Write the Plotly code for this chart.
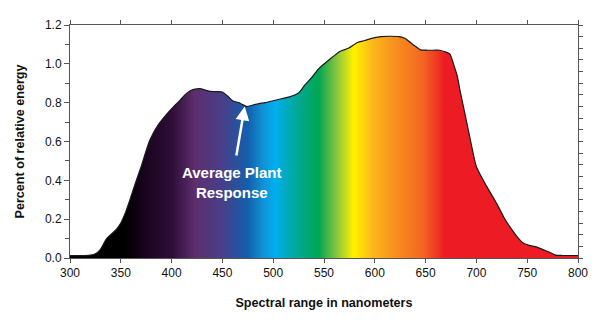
import plotly.graph_objects as go

# Spectral curve (wavelength nm, relative energy)
wavelength = [300, 310, 320, 325, 330, 336, 341, 346, 350, 355, 359, 364, 370, 378, 386, 395, 402, 408,
              413, 418, 423, 428, 433, 438, 444, 450, 455, 460, 466, 470, 474, 480, 486, 492, 500, 508,
              516, 525, 531, 538, 544, 549, 556, 562, 566, 574, 583, 590, 596, 606, 615, 624, 630,
              635, 640, 645, 652, 658, 664, 670, 674, 678, 681, 684, 688, 694, 700, 710, 720, 727,
              733, 740, 746, 752, 759, 766, 772, 778, 785, 800]
energy = [0.012, 0.012, 0.015, 0.022, 0.045, 0.10, 0.125, 0.15, 0.18, 0.24, 0.30, 0.38, 0.47, 0.60, 0.68,
          0.74, 0.78, 0.81, 0.84, 0.86, 0.87, 0.872, 0.865, 0.858, 0.857, 0.855, 0.835, 0.81, 0.80,
          0.79, 0.78, 0.788, 0.795, 0.80, 0.81, 0.82, 0.83, 0.85, 0.89, 0.93, 0.97, 0.995, 1.025, 1.05,
          1.065, 1.08, 1.11, 1.12, 1.13, 1.14, 1.142, 1.14, 1.13, 1.11, 1.09, 1.072, 1.07, 1.07, 1.07,
          1.06, 1.05, 0.99, 0.94, 0.86, 0.76, 0.61, 0.47, 0.37, 0.28, 0.21, 0.16, 0.11, 0.077, 0.065,
          0.057, 0.042, 0.03, 0.015, 0.013, 0.013]

# Spectrum colours (wavelength nm -> colour)
spec_nm = [300, 354, 375, 400, 422, 450, 474, 488, 500, 520, 543, 561, 577, 595, 615, 645, 666, 800]
spec_col = ["#000000", "#000000", "#1a0520", "#2f0d38", "#5e2e6e", "#46408a", "#1260ad", "#1190d4",
            "#00aeef", "#00a99d", "#00a651", "#8dc63f", "#fff200", "#fcb918", "#f7941d", "#f26522",
            "#ed1c24", "#ed1c24"]

x_ticks = [300, 350, 400, 450, 500, 550, 600, 650, 700, 750, 800]
y_ticks = [0.0, 0.2, 0.4, 0.6, 0.8, 1.0, 1.2]

x0, x1 = x_ticks[0], x_ticks[-1]
colorscale = [[(n - x0) / (x1 - x0), c] for n, c in zip(spec_nm, spec_col)]

fig = go.Figure()
fig.add_trace(go.Scatter(
    x=wavelength, y=energy, mode="lines",
    line=dict(color="#1a1a1a", width=1.2, shape="spline", smoothing=0.6),
    fill="tozeroy",
    fillgradient=dict(type="horizontal", colorscale=colorscale, start=x0, stop=x1),
    hoverinfo="skip", showlegend=False,
))
# invisible trace to anchor right axis
fig.add_trace(go.Scatter(x=[x0], y=[0], yaxis="y2", mode="markers",
                         marker=dict(opacity=0), showlegend=False, hoverinfo="skip"))

tick_font = dict(family="Liberation Sans, Arial, sans-serif", size=12, color="#111111")
title_font = dict(family="Liberation Sans, Arial, sans-serif", size=12.6, color="#111111")
axis_col = "#555555"

fig.add_annotation(x=472, y=0.78, ax=463.5, ay=0.52, xref="x", yref="y", axref="x", ayref="y",
                   text="", showarrow=True, arrowhead=2, arrowsize=1.1, arrowwidth=2.5,
                   arrowcolor="white")
fig.add_annotation(x=459, y=0.39, xref="x", yref="y", showarrow=False,
                   text="<b>Average Plant<br>Response</b>",
                   font=dict(family="Liberation Sans, Arial, sans-serif", size=15, color="white"),
                   align="center")

fig.update_layout(
    width=600, height=332,
    margin=dict(l=70, r=18, t=25, b=74),
    paper_bgcolor="white", plot_bgcolor="white",
    xaxis=dict(range=[x0, x1], tickvals=x_ticks, ticks="outside", ticklen=4, tickcolor=axis_col,
               showline=True, linecolor=axis_col, linewidth=1, mirror="ticks", showgrid=False,
               zeroline=False, tickfont=tick_font, tickprefix="<b>", ticksuffix="</b>",
               title=dict(text="<b>Spectral range in nanometers</b>", font=title_font, standoff=18)),
    yaxis=dict(range=[0, 1.2], tickvals=y_ticks, tickformat=".1f", ticks="outside", ticklen=5,
               tickcolor=axis_col, showline=True, linecolor=axis_col, linewidth=1, showgrid=False,
               zeroline=False, tickfont=tick_font, tickprefix="<b>", ticksuffix="</b>",
               minor=dict(dtick=0.1, ticks="outside", ticklen=4, tickcolor=axis_col),
               title=dict(text="<b>Percent of relative energy</b>", font=title_font, standoff=17)),
    yaxis2=dict(range=[0, 1.2], overlaying="y", side="right", dtick=0.06, tick0=0, ticks="outside",
                ticklen=4, tickcolor=axis_col, showline=True, linecolor=axis_col, linewidth=1,
                showticklabels=False, showgrid=False, zeroline=False),
    font=tick_font,
)

fig.write_html("out.html")
